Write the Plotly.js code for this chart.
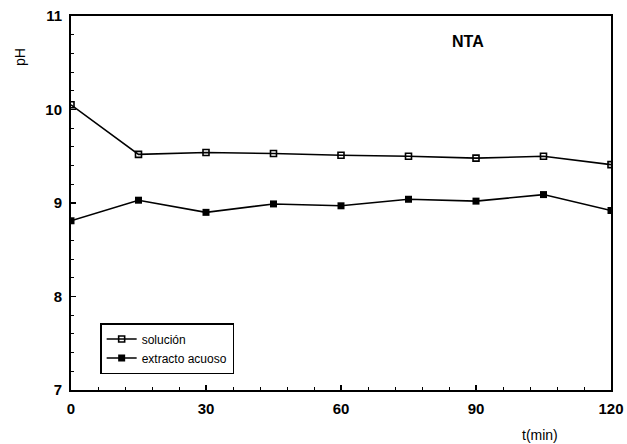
<!DOCTYPE html>
<html>
<head>
<meta charset="utf-8">
<script src="https://cdn.plot.ly/plotly-3.0.1.min.js"></script>
<style>html,body{margin:0;padding:0;background:#fff;}#chart{width:627px;height:444px;}</style>
</head>
<body>
<div id="chart"></div>
<script>
const tMin = [0, 15, 30, 45, 60, 75, 90, 105, 120];
const solucion = [10.05, 9.52, 9.54, 9.53, 9.51, 9.50, 9.48, 9.50, 9.41];
const extracto = [8.81, 9.03, 8.90, 8.99, 8.97, 9.04, 9.02, 9.09, 8.92];
const seriesNames = ["solución", "extracto acuoso"];

const traces = [
  {
    x: tMin, y: solucion, name: seriesNames[0], type: 'scatter', mode: 'lines+markers',
    line: {color: '#000', width: 1.6},
    marker: {symbol: 'square-open', size: 6, color: '#000', line: {width: 1.6, color: '#000'}}
  },
  {
    x: tMin, y: extracto, name: seriesNames[1], type: 'scatter', mode: 'lines+markers',
    line: {color: '#000', width: 1.6},
    marker: {symbol: 'square', size: 7, color: '#000'}
  }
];

const tickFont = {family: 'Liberation Sans, Arial, sans-serif', size: 15, color: '#000', weight: 'bold'};

const layout = {
  width: 627, height: 444,
  margin: {l: 71, r: 16, t: 16, b: 54},
  paper_bgcolor: '#fff', plot_bgcolor: '#fff',
  showlegend: true,
  legend: {
    x: 0.054, y: 0.179, xanchor: 'left', yanchor: 'top',
    bordercolor: '#000', borderwidth: 1.5, bgcolor: '#fff',
    font: {family: 'Liberation Sans, Arial, sans-serif', size: 12, color: '#000'},
    itemwidth: 30, tracegroupgap: 0
  },
  xaxis: {
    range: [0, 120], tickmode: 'linear', tick0: 0, dtick: 30,
    ticks: 'inside', ticklen: 5, tickwidth: 1.5, tickcolor: '#000',
    minor: {dtick: 6, ticks: 'inside', ticklen: 3, tickcolor: '#000', tickwidth: 1},
    showline: true, linecolor: '#000', linewidth: 2, mirror: true,
    showgrid: false, zeroline: false, tickfont: tickFont, ticklabelstandoff: 4
  },
  yaxis: {
    range: [7, 11], tickmode: 'linear', tick0: 7, dtick: 1,
    ticks: 'inside', ticklen: 5, tickwidth: 1.5, tickcolor: '#000',
    minor: {dtick: 0.2, ticks: 'inside', ticklen: 3, tickcolor: '#000', tickwidth: 1},
    showline: true, linecolor: '#000', linewidth: 2, mirror: true,
    showgrid: false, zeroline: false, tickfont: tickFont, ticklabelstandoff: 4
  },
  annotations: [
    {text: 'NTA', xref: 'paper', yref: 'paper', x: (468 - 71) / 540, y: (390 - 42) / 374,
     xanchor: 'center', yanchor: 'middle', showarrow: false,
     font: {family: 'Liberation Sans, Arial, sans-serif', size: 16, color: '#000', weight: 'bold'}},
    {text: 'pH', xref: 'paper', yref: 'paper', x: (20 - 71) / 540, y: (390 - 57) / 374,
     xanchor: 'center', yanchor: 'middle', showarrow: false, textangle: -90,
     font: {family: 'Liberation Sans, Arial, sans-serif', size: 14, color: '#000'}},
    {text: 't(min)', xref: 'paper', yref: 'paper', x: (540 - 71) / 540, y: (390 - 435) / 374,
     xanchor: 'center', yanchor: 'middle', showarrow: false,
     font: {family: 'Liberation Sans, Arial, sans-serif', size: 14, color: '#000'}}
  ]
};

Plotly.newPlot('chart', traces, layout, {staticPlot: true, displayModeBar: false});
</script>
</body>
</html>
